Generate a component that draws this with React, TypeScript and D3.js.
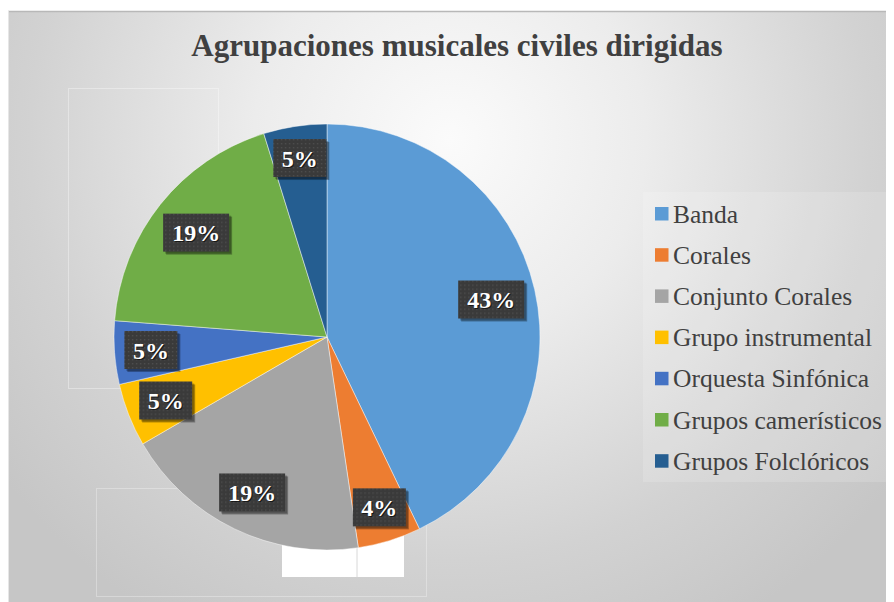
import React from "react";
import * as d3 from "d3";

const categories = [
  "Banda",
  "Corales",
  "Conjunto Corales",
  "Grupo instrumental",
  "Orquesta Sinfónica",
  "Grupos camerísticos",
  "Grupos Folclóricos",
];
const shares = [42.9, 4.8, 19.0, 4.8, 4.8, 19.0, 4.8];
const labels = ["43%", "4%", "19%", "5%", "5%", "19%", "5%"];
const colors = ["#5B9BD5", "#ED7D31", "#A5A5A5", "#FFC000", "#4472C4", "#70AD47", "#255E91"];
const title = "Agrupaciones musicales civiles dirigidas";

const W = 894;
const H = 602;
const cx = 327;
const cy = 337;
const R = 213;
const FONT = "Liberation Serif";

export default function App() {
  const pie = d3.pie<number>().sort(null).value((d) => d);
  const arcs = pie(shares);
  const arcGen = d3.arc<d3.PieArcDatum<number>>().innerRadius(0).outerRadius(R);

  const labelPos = (a: d3.PieArcDatum<number>, w: number, h: number) => {
    const th = (a.startAngle + a.endAngle) / 2;
    const ux = Math.sin(th);
    const uy = -Math.cos(th);
    const kx = Math.sign(ux) * (w / 2);
    const ky = Math.sign(uy) * (h / 2);
    const Rin = R * 0.963;
    const uk = ux * kx + uy * ky;
    const t = -uk + Math.sqrt(uk * uk - (kx * kx + ky * ky) + Rin * Rin);
    return [t * ux, t * uy];
  };

  const legendX = 655;
  const legendY0 = 214;
  const legendStep = 41.2;

  return (
    <svg width={W} height={H}>
      <defs>
        <radialGradient id="bg" gradientUnits="userSpaceOnUse" cx={450} cy={140} r={560}>
          <stop offset="0" stopColor="#fbfbfb" />
          <stop offset="0.35" stopColor="#ececec" />
          <stop offset="0.75" stopColor="#d2d2d2" />
          <stop offset="1" stopColor="#c6c6c6" />
        </radialGradient>
        <pattern id="dots" width="4" height="4" patternUnits="userSpaceOnUse">
          <rect width="4" height="4" fill="#3a3a3a" />
          <rect x="1" y="1" width="1.4" height="1.4" fill="#4e4e4e" />
        </pattern>
      </defs>
      <g transform="translate(-8,-8)">
        <rect x={8} y={11} width={W - 8} height={H - 11} fill="url(#bg)" />
        <line x1={8} y1={11.5} x2={W} y2={11.5} stroke="#b8b8b8" strokeWidth={1.5} />
        <line x1={8.5} y1={11} x2={8.5} y2={H} stroke="#e6e6e6" strokeWidth={1} />
        <rect x={643} y={192} width={251} height={290} fill="#ffffff" opacity={0.15} />
        <rect x={68.5} y={88.5} width={150} height={300} fill="none" stroke="#ffffff" strokeOpacity={0.35} />
        <rect x={96.5} y={488.5} width={330} height={108} fill="none" stroke="#ffffff" strokeOpacity={0.3} />
        <rect x={282} y={530} width={122} height={47} fill="#ffffff" />
        <line x1={357} y1={540} x2={357} y2={577} stroke="#d8d8d8" strokeWidth={1} />

        <text
          x={457}
          y={56}
          textAnchor="middle"
          fill="#404040"
          style={{ fontFamily: FONT, fontWeight: "bold", fontSize: 31 }}
        >
          {title}
        </text>

        <g transform={`translate(${cx},${cy})`}>
          {arcs.map((a, i) => (
            <path key={i} d={arcGen(a) || ""} fill={colors[i]} stroke="#ffffff" strokeOpacity={0.6} strokeWidth={0.75} />
          ))}
          {arcs.map((a, i) => {
            const w = 13 * labels[i].length + 27;
            const h = 38;
            const [x, y] = labelPos(a, w, h);
            return (
              <g key={"l" + i} transform={`translate(${x},${y})`}>
                <rect x={-w / 2 + 3} y={-h / 2 + 3} width={w} height={h} fill="#000000" opacity={0.3} />
                <rect x={-w / 2 + 2} y={-h / 2 + 2} width={w} height={h} fill="#000000" opacity={0.25} />
                <rect x={-w / 2} y={-h / 2} width={w} height={h} fill="url(#dots)" />
                <text
                  x={1}
                  y={9.5}
                  textAnchor="middle"
                  fill="#000000"
                  opacity={0.6}
                  style={{ fontFamily: FONT, fontWeight: "bold", fontSize: 24 }}
                >
                  {labels[i]}
                </text>
                <text
                  x={0}
                  y={8.5}
                  textAnchor="middle"
                  fill="#ffffff"
                  style={{ fontFamily: FONT, fontWeight: "bold", fontSize: 24 }}
                >
                  {labels[i]}
                </text>
              </g>
            );
          })}
        </g>

        <g>
          {categories.map((c, i) => (
            <g key={c} transform={`translate(${legendX},${legendY0 + i * legendStep})`}>
              <rect x={0} y={-7} width={13.5} height={13.5} fill={colors[i]} />
              <text x={18} y={8.5} fill="#404040" style={{ fontFamily: FONT, fontSize: 25.5 }}>
                {c}
              </text>
            </g>
          ))}
        </g>
      </g>
    </svg>
  );
}
